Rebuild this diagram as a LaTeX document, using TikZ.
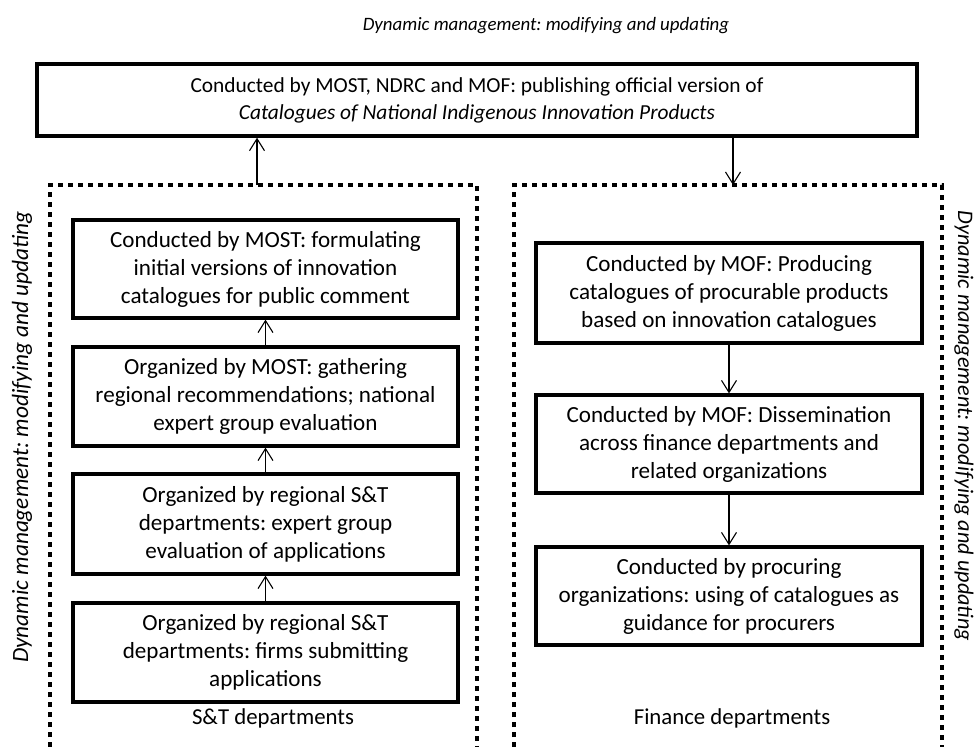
\documentclass[tikz,border=0pt]{standalone}
\usepackage{fontspec}
\setmainfont{Carlito}
\usetikzlibrary{arrows.meta}
\frenchspacing
\begin{document}
\begin{tikzpicture}[x=1pt,y=-1pt,
  stepbox/.style={draw, line width=3.2pt, align=center, inner sep=0pt,
    font=\fontsize{23.1}{28}\selectfont},
  leftbox/.style={stepbox, minimum width=385pt},
  rightbox/.style={stepbox, minimum width=386pt},
  dotline/.style={line width=3.5pt, dash pattern=on 5pt off 5pt},
  flow/.style={line width=1.1pt, -{Straight Barb[length=12pt,width=15pt]}},
  deptlabel/.style={font=\fontsize{22.8}{26}\selectfont}
]
\useasboundingbox (0,0) rectangle (978,747);

% title
\node[font=\fontsize{18.9}{22}\selectfont\itshape] (title) at (546,26) {Dynamic management: modifying and updating};

% top box
\node[draw, line width=3.4pt, minimum width=880pt, minimum height=72pt, align=center, inner sep=0pt,
  font=\fontsize{21.4}{27}\selectfont] (top) at (477,100)
  {Conducted by MOST, NDRC and MOF: publishing official version of\\ \textit{Catalogues of National Indigenous Innovation Products}};

% dotted department frames (open at the bottom)
\coordinate (lbl) at (50,747);
\coordinate (ltl) at (50,185);
\coordinate (ltr) at (477,185);
\coordinate (lbr) at (477,747);
\coordinate (lout) at (257,185);
\draw[dotline] (lbl) -- (ltl) -- (ltr) -- (lbr);

\coordinate (rbl) at (514,747);
\coordinate (rtl) at (514,185);
\coordinate (rtr) at (942,185);
\coordinate (rbr) at (942,747);
\coordinate (rin) at (733,185);
\draw[dotline] (rbl) -- (rtl) -- (rtr) -- (rbr);

% left column
\node[leftbox, minimum height=98pt] (l1) at (265.5,269)
  {Conducted by MOST: formulating\\ initial versions of innovation\\ catalogues for public comment};
\node[leftbox, minimum height=99pt] (l2) at (265.5,396.5)
  {Organized by MOST: gathering\\ regional recommendations; national\\ expert group evaluation};
\node[leftbox, minimum height=100pt] (l3) at (265.5,524)
  {Organized by regional S\&T\\ departments: expert group\\ evaluation of applications};
\node[leftbox, minimum height=99pt] (l4) at (265.5,652.5)
  {Organized by regional S\&T\\ departments: firms submitting\\ applications};
\node[deptlabel] (ldept) at (273,718) {S\&T departments};

% right column
\node[rightbox, minimum height=100pt] (r1) at (729,293)
  {Conducted by MOF: Producing\\ catalogues of procurable products\\ based on innovation catalogues};
\node[rightbox, minimum height=98pt] (r2) at (729,444)
  {Conducted by MOF: Dissemination\\ across finance departments and\\ related organizations};
\node[rightbox, minimum height=98pt] (r3) at (729,596)
  {Conducted by procuring\\ organizations: using of catalogues as\\ guidance for procurers};
\node[deptlabel] (rdept) at (732,718) {Finance departments};

% side labels
\node[font=\fontsize{23.3}{27}\selectfont\itshape, rotate=90] (lside) at (22,437) {Dynamic management: modifying and updating};
\node[font=\fontsize{22.2}{26}\selectfont\itshape, rotate=-90] (rside) at (964,426) {Dynamic management: modifying and updating};

% arrows
\draw[flow] (lout) -- (lout |- top.south);
\draw[flow] (top.south -| rin) -- (rin);
\draw[flow] (l4.north) -- (l3.south);
\draw[flow] (l3.north) -- (l2.south);
\draw[flow] (l2.north) -- (l1.south);
\draw[flow] (r1.south) -- (r2.north);
\draw[flow] (r2.south) -- (r3.north);
\end{tikzpicture}
\end{document}
